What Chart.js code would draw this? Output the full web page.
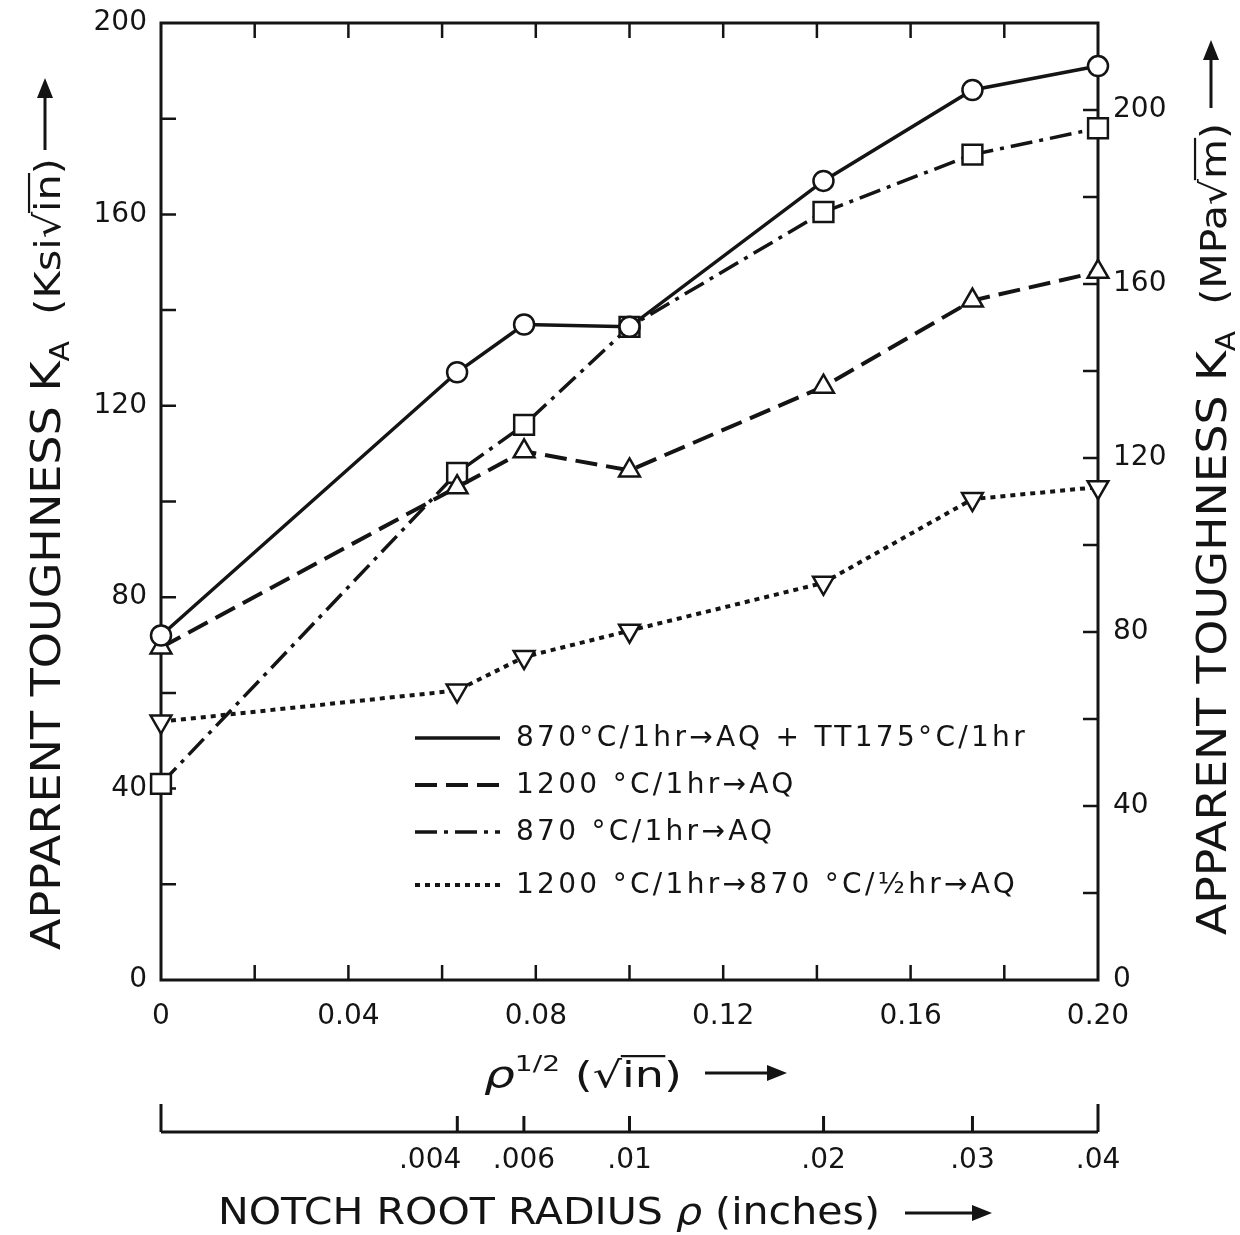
<!DOCTYPE html>
<html>
<head>
<meta charset="utf-8">
<title>Apparent toughness vs notch root radius</title>
<script src="https://cdn.jsdelivr.net/npm/chart.js@4.4.0/dist/chart.umd.min.js"></script>
<style>
  html, body { margin: 0; padding: 0; background: #fff; }
  #wrap { width: 1240px; height: 1235px; position: relative; }
</style>
</head>
<body>
<div id="wrap"><canvas id="chart" width="1240" height="1235"></canvas></div>
<script>
// Square root of the notch root radius, sqrt(in) — the x position of each test
const sqrtRadius = [0, 0.0632, 0.0775, 0.1, 0.1414, 0.1732, 0.2];
// Notch root radii (inches) marked on the secondary scale
const notchRadii = [0.004, 0.006, 0.01, 0.02, 0.03, 0.04];
const notchRadiusLabels = ['.004', '.006', '.01', '.02', '.03', '.04'];

// Apparent toughness K_A, ksi·sqrt(in)
const ttTempered = [72, 127, 137, 136.5, 167, 186, 191];      // 870°C/1hr→AQ + TT175°C/1hr
const hiTempAQ   = [69.5, 103, 110.5, 106.5, 124, 142, 148];  // 1200°C/1hr→AQ
const aq870      = [41, 106, 116, 136.5, 160.5, 172.5, 178];  // 870°C/1hr→AQ
const doubleAQ   = [54, 60.5, 67.5, 73, 83, 100.5, 103];      // 1200°C/1hr→870°C/½hr→AQ

const seriesLabels = [
  '870°C/1hr→AQ + TT175°C/1hr',
  '1200 °C/1hr→AQ',
  '870 °C/1hr→AQ',
  '1200 °C/1hr→870 °C/½hr→AQ'
];

const ksiMax = 200;
const KSI_TO_MPA = 1.0988;

const INK = '#141414';
const NUM_FONT = 'DejaVu Sans';

function toPoints(values) {
  return sqrtRadius.map((x, i) => ({ x: x, y: values[i] }));
}

// ---------- text helpers ----------
function partFont(p) {
  return (p.italic ? 'italic ' : '') + p.size + 'px "' + (p.family || 'DejaVu Sans') + '"';
}
function richWidth(ctx, parts) {
  let w = 0;
  parts.forEach(p => { ctx.font = partFont(p); w += ctx.measureText(p.text).width; });
  return w;
}
// Draws a run of text pieces (sub/superscripts, overlines) starting at (0,0),
// stretched horizontally to a given length.
function drawRich(ctx, parts, targetLen) {
  const natural = richWidth(ctx, parts);
  const sx = targetLen / natural;
  ctx.save();
  ctx.scale(sx, 1);
  ctx.textBaseline = 'alphabetic';
  ctx.fillStyle = INK;
  ctx.strokeStyle = INK;
  let x = 0;
  parts.forEach(p => {
    ctx.font = partFont(p);
    const w = ctx.measureText(p.text).width;
    ctx.fillText(p.text, x, p.dy || 0);
    if (p.over) {
      ctx.lineWidth = 2.2;
      ctx.beginPath();
      ctx.moveTo(x - 1, (p.dy || 0) - p.size * 0.86);
      ctx.lineTo(x + w + 1, (p.dy || 0) - p.size * 0.86);
      ctx.stroke();
    }
    x += w;
  });
  ctx.restore();
}
function arrow(ctx, x0, y0, x1, y1) {
  const ang = Math.atan2(y1 - y0, x1 - x0);
  const head = 20, half = 8;
  ctx.save();
  ctx.strokeStyle = INK; ctx.fillStyle = INK; ctx.lineWidth = 3;
  ctx.beginPath();
  ctx.moveTo(x0, y0);
  ctx.lineTo(x1 - Math.cos(ang) * head * 0.8, y1 - Math.sin(ang) * head * 0.8);
  ctx.stroke();
  ctx.translate(x1, y1); ctx.rotate(ang);
  ctx.beginPath();
  ctx.moveTo(0, 0); ctx.lineTo(-head, -half); ctx.lineTo(-head, half); ctx.closePath();
  ctx.fill();
  ctx.restore();
}

// ---------- plugins ----------
// Plot frame plus tick marks pointing into the plot on all four sides
const frameTicks = {
  id: 'frameTicks',
  beforeDatasetsDraw(chart) {
    const { ctx, chartArea: a, scales } = chart;
    const L = 15;
    ctx.save();
    ctx.strokeStyle = INK;
    ctx.lineWidth = 3;
    ctx.strokeRect(a.left, a.top, a.right - a.left, a.bottom - a.top);
    ctx.lineWidth = 2.5;
    ctx.beginPath();
    scales.x.ticks.forEach(t => {
      const px = scales.x.getPixelForValue(t.value);
      if (px <= a.left + 2 || px >= a.right - 2) return;
      ctx.moveTo(px, a.bottom); ctx.lineTo(px, a.bottom - L);
      ctx.moveTo(px, a.top); ctx.lineTo(px, a.top + L);
    });
    scales.y.ticks.forEach(t => {
      const py = scales.y.getPixelForValue(t.value);
      if (py <= a.top + 2 || py >= a.bottom - 2) return;
      ctx.moveTo(a.left, py); ctx.lineTo(a.left + L, py);
    });
    scales.y2.ticks.forEach(t => {
      const py = scales.y2.getPixelForValue(t.value);
      if (py <= a.top + 2 || py >= a.bottom - 2) return;
      ctx.moveTo(a.right, py); ctx.lineTo(a.right - L, py);
    });
    ctx.stroke();
    ctx.restore();
  }
};

// Key drawn inside the plot, reusing each dataset's line style
const insetKey = {
  id: 'insetKey',
  afterDatasetsDraw(chart) {
    const { ctx } = chart;
    const rows = [738, 785, 832, 885];
    ctx.save();
    chart.data.datasets.forEach((ds, i) => {
      const y = rows[i];
      ctx.strokeStyle = INK;
      ctx.lineWidth = ds.borderWidth;
      ctx.setLineDash(ds.borderDash || []);
      ctx.beginPath();
      ctx.moveTo(415, y); ctx.lineTo(500, y);
      ctx.stroke();
      ctx.setLineDash([]);
      ctx.fillStyle = INK;
      ctx.font = '28px "DejaVu Sans"';
      ctx.letterSpacing = '3.3px';
      ctx.textBaseline = 'middle';
      ctx.fillText(ds.label, 516, y + 1);
      ctx.letterSpacing = '0px';
    });
    ctx.restore();
  }
};

// Axis titles and the notch-radius scale under the plot
const axisDecor = {
  id: 'axisDecor',
  afterDraw(chart) {
    const { ctx, scales } = chart;
    const x = scales.x;

    // Left title (reads bottom to top)
    ctx.save();
    ctx.translate(60, 950);
    ctx.rotate(-Math.PI / 2);
    drawRich(ctx, [
      { text: 'APPARENT TOUGHNESS K', size: 40 },
      { text: 'A', size: 26, dy: 9 },
      { text: '  (Ksi', size: 36 },
      { text: '√', size: 36 },
      { text: 'in', size: 36, over: true },
      { text: ')', size: 36 }
    ], 792);
    ctx.restore();
    arrow(ctx, 45, 150, 45, 78);

    // Right title
    ctx.save();
    ctx.translate(1226, 935);
    ctx.rotate(-Math.PI / 2);
    drawRich(ctx, [
      { text: 'APPARENT TOUGHNESS K', size: 40 },
      { text: 'A', size: 26, dy: 9 },
      { text: '  (MPa', size: 36 },
      { text: '√', size: 36 },
      { text: 'm', size: 36, over: true },
      { text: ')', size: 36 }
    ], 812);
    ctx.restore();
    arrow(ctx, 1211, 108, 1211, 40);

    // sqrt(radius) title
    ctx.save();
    ctx.translate(484, 1087);
    drawRich(ctx, [
      { text: 'ρ', size: 38, italic: true },
      { text: '1/2', size: 22, dy: -16 },
      { text: ' (', size: 36 },
      { text: '√', size: 36 },
      { text: 'in', size: 36, over: true },
      { text: ')', size: 36 }
    ], 198);
    ctx.restore();
    arrow(ctx, 705, 1073, 787, 1073);

    // Notch radius scale
    const y0 = 1132;
    ctx.save();
    ctx.strokeStyle = INK;
    ctx.lineWidth = 3;
    ctx.beginPath();
    ctx.moveTo(x.left, y0); ctx.lineTo(x.right, y0);
    ctx.moveTo(x.left, y0); ctx.lineTo(x.left, y0 - 28);
    ctx.moveTo(x.right, y0); ctx.lineTo(x.right, y0 - 28);
    notchRadii.forEach(r => {
      const px = x.getPixelForValue(Math.sqrt(r));
      ctx.moveTo(px, y0); ctx.lineTo(px, y0 - 16);
    });
    ctx.stroke();
    ctx.fillStyle = INK;
    ctx.font = '28px "' + NUM_FONT + '"';
    ctx.textBaseline = 'middle';
    notchRadii.forEach((r, i) => {
      const px = x.getPixelForValue(Math.sqrt(r));
      if (i === 0) { ctx.textAlign = 'right'; ctx.fillText(notchRadiusLabels[i], px + 4, 1161); }
      else { ctx.textAlign = 'center'; ctx.fillText(notchRadiusLabels[i], px, 1161); }
    });
    ctx.restore();

    // Radius title
    ctx.save();
    ctx.translate(218, 1224);
    drawRich(ctx, [
      { text: 'NOTCH ROOT RADIUS ', size: 38 },
      { text: 'ρ', size: 38, italic: true },
      { text: ' (inches)', size: 38 }
    ], 662);
    ctx.restore();
    arrow(ctx, 905, 1213, 992, 1213);
  }
};

const pointBase = {
  pointBackgroundColor: '#fff',
  pointBorderColor: INK,
  pointBorderWidth: 2.5,
  borderColor: INK,
  borderWidth: 3.5,
  fill: false,
  tension: 0,
  clip: false
};

function noPadY(s) { s.paddingTop = 0; s.paddingBottom = 0; }

new Chart(document.getElementById('chart'), {
  type: 'line',
  data: {
    datasets: [
      Object.assign({}, pointBase, { label: seriesLabels[0], data: toPoints(ttTempered),
        borderDash: [], pointStyle: 'circle', pointRadius: 10 }),
      Object.assign({}, pointBase, { label: seriesLabels[1], data: toPoints(hiTempAQ),
        borderDash: [22, 9], borderWidth: 4, pointStyle: 'triangle', pointRadius: 12 }),
      Object.assign({}, pointBase, { label: seriesLabels[2], data: toPoints(aq870),
        borderDash: [22, 7, 4, 7], pointStyle: 'rect', pointRadius: 14 }),
      Object.assign({}, pointBase, { label: seriesLabels[3], data: toPoints(doubleAQ),
        borderDash: [5, 5], borderWidth: 4, pointStyle: 'triangle', pointRotation: 180, pointRadius: 12 })
    ]
  },
  options: {
    responsive: false,
    animation: false,
    devicePixelRatio: 1,
    events: [],
    layout: { padding: { top: 23, left: 0, right: 0, bottom: 0 } },
    plugins: { legend: { display: false }, tooltip: { enabled: false } },
    scales: {
      x: {
        type: 'linear', position: 'bottom', min: 0, max: 0.2,
        grid: { display: false, drawTicks: false }, border: { display: false },
        ticks: {
          stepSize: 0.02, autoSkip: false, maxRotation: 0, includeBounds: false,
          padding: 20, color: INK, font: { family: NUM_FONT, size: 28 },
          callback: v => {
            const h = Math.round(v * 100);
            if (h % 4 !== 0) return '';
            return h === 0 ? '0' : (h / 100).toFixed(2);
          }
        },
        afterFit: s => { s.height = 255; s.paddingLeft = 0; s.paddingRight = 0; }
      },
      y: {
        type: 'linear', position: 'left', min: 0, max: ksiMax,
        grid: { display: false, drawTicks: false }, border: { display: false },
        ticks: {
          stepSize: 20, autoSkip: false, padding: 14, color: INK,
          font: { family: NUM_FONT, size: 28 },
          callback: v => (Math.round(v) % 40 === 0 ? String(Math.round(v)) : '')
        },
        afterFit: s => { s.width = 161; noPadY(s); }
      },
      y2: {
        type: 'linear', position: 'right', min: 0, max: ksiMax * KSI_TO_MPA,
        grid: { display: false, drawTicks: false }, border: { display: false },
        ticks: {
          stepSize: 20, autoSkip: false, includeBounds: false, padding: 15, color: INK,
          font: { family: NUM_FONT, size: 28 },
          callback: v => (Math.round(v) % 40 === 0 ? String(Math.round(v)) : '')
        },
        afterFit: s => { s.width = 142; noPadY(s); }
      }
    }
  },
  plugins: [frameTicks, insetKey, axisDecor]
});
</script>
</body>
</html>
